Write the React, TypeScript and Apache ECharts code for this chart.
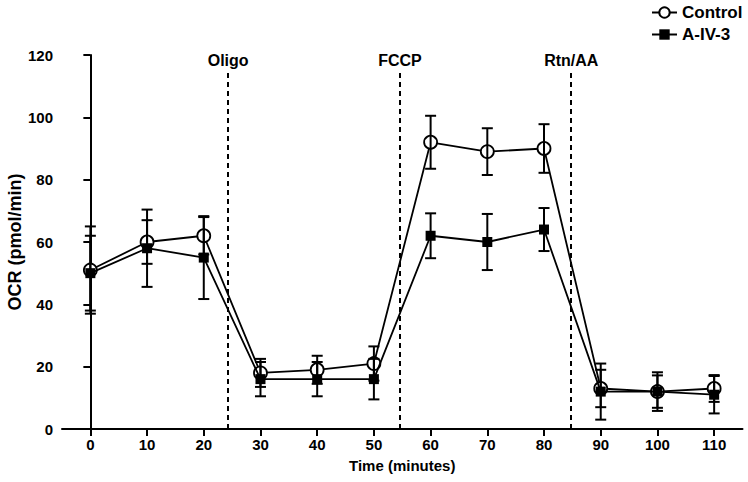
import React, { useEffect, useRef } from "react";
import * as echarts from "echarts";

const times = [0, 10, 20, 30, 40, 50, 60, 70, 80, 90, 100, 110];
const controlMean = [51, 60, 62, 18, 19, 21, 92, 89, 90, 13, 12, 13];
const controlErr = [14, 7, 6, 4.5, 4.5, 5.5, 8.5, 7.5, 7.8, 6, 5.2, 4.3];
const a4Mean = [50, 58, 55, 16, 16, 16, 62, 60, 64, 12, 12, 11];
const a4Err = [12, 12.4, 13.3, 5.5, 5.5, 6.5, 7.2, 9, 6.9, 9, 6.2, 6];
const eventTimes = [24.3, 54.6, 84.8];
const eventLabels = ["Oligo", "FCCP", "Rtn/AA"];
const eventTop = 114.5;

const FONT = "Liberation Sans, Arial, sans-serif";

export default function App() {
  const ref = useRef<HTMLDivElement>(null);
  useEffect(() => {
    if (!ref.current) return;
    const chart = echarts.init(ref.current, undefined, { renderer: "svg" });

    const errData = (mean: number[], err: number[]) =>
      times.map((t, i) => [t, mean[i] - err[i], mean[i] + err[i]]);

    const errSeries = (name: string, mean: number[], err: number[], z: number) => ({
      type: "custom",
      name: name + "-err",
      z,
      silent: true,
      data: errData(mean, err),
      encode: { x: 0, y: [1, 2] },
      renderItem: (params: any, api: any) => {
        const x = api.value(0);
        const lo = api.coord([x, api.value(1)]);
        const hi = api.coord([x, api.value(2)]);
        const hw = 5.5;
        const style = { stroke: "#000", lineWidth: 2, fill: "none" };
        return {
          type: "group",
          children: [
            { type: "line", shape: { x1: lo[0], y1: lo[1], x2: hi[0], y2: hi[1] }, style },
            { type: "line", shape: { x1: lo[0] - hw, y1: lo[1], x2: lo[0] + hw, y2: lo[1] }, style },
            { type: "line", shape: { x1: hi[0] - hw, y1: hi[1], x2: hi[0] + hw, y2: hi[1] }, style },
          ],
        };
      },
    });

    chart.setOption({
      animation: false,
      grid: {
        left: 62,
        right: 5.5,
        top: 55,
        bottom: 53,
        containLabel: false,
        outerBoundsMode: "none",
      },
      legend: {
        orient: "vertical",
        left: 646,
        top: -1,
        itemWidth: 25,
        itemHeight: 13,
        itemGap: 5,
        data: ["Control", "A-IV-3"],
        textStyle: { color: "#000", fontWeight: "bold", fontSize: 17, fontFamily: FONT },
      },
      xAxis: {
        type: "value",
        min: -5,
        max: 115,
        interval: 10,
        name: "Time (minutes)",
        nameLocation: "middle",
        nameGap: 29,
        nameMoveOverlap: false,
        nameTextStyle: { color: "#000", fontWeight: "bold", fontSize: 15, fontFamily: FONT },
        axisLine: { show: true, onZero: false, lineStyle: { color: "#000", width: 2 } },
        axisTick: { show: true, length: 7, lineStyle: { color: "#000", width: 2 }, customValues: times },
        axisLabel: {
          color: "#000",
          fontWeight: "bold",
          fontSize: 15,
          fontFamily: FONT,
          margin: 8,
          customValues: times,
        },
        splitLine: { show: false },
      },
      yAxis: {
        type: "value",
        min: 0,
        max: 120,
        interval: 20,
        name: "OCR (pmol/min)",
        nameLocation: "middle",
        nameGap: 38,
        nameMoveOverlap: false,
        nameTextStyle: { color: "#000", fontWeight: "bold", fontSize: 18, fontFamily: FONT },
        axisLine: { show: true, lineStyle: { color: "#000", width: 2 } },
        axisTick: { show: true, length: 7, lineStyle: { color: "#000", width: 2 } },
        axisLabel: { color: "#000", fontWeight: "bold", fontSize: 15, fontFamily: FONT, margin: 9 },
        splitLine: { show: false },
      },
      series: [
        {
          type: "line",
          name: "Control",
          z: 3,
          data: times.map((t, i) => [t, controlMean[i]]),
          symbol: "circle",
          symbolSize: 13,
          showAllSymbol: true,
          lineStyle: { color: "#000", width: 1.8 },
          itemStyle: { color: "#fff", borderColor: "#000", borderWidth: 1.8 },
          markLine: {
            silent: true,
            symbol: "none",
            lineStyle: { color: "#000", width: 2, type: [5, 4] },
            label: {
              show: true,
              position: "end",
              formatter: "{b}",
              color: "#000",
              fontWeight: "bold",
              fontSize: 16,
              fontFamily: FONT,
              distance: 4,
            },
            data: eventTimes.map((t, i) => [
              { name: eventLabels[i], coord: [t, 0] },
              { coord: [t, eventTop] },
            ]),
          },
        },
        {
          type: "line",
          name: "A-IV-3",
          z: 4,
          data: times.map((t, i) => [t, a4Mean[i]]),
          symbol: "rect",
          symbolSize: 10,
          showAllSymbol: true,
          lineStyle: { color: "#000", width: 1.8 },
          itemStyle: { color: "#000", borderColor: "#000", borderWidth: 0 },
        },
        errSeries("Control", controlMean, controlErr, 5),
        errSeries("A-IV-3", a4Mean, a4Err, 5),
      ],
    });
    return () => chart.dispose();
  }, []);
  return (
    <div
      ref={ref}
      style={{ position: "fixed", left: 0, top: 0, width: 748, height: 482, background: "#fff" }}
    />
  );
}
